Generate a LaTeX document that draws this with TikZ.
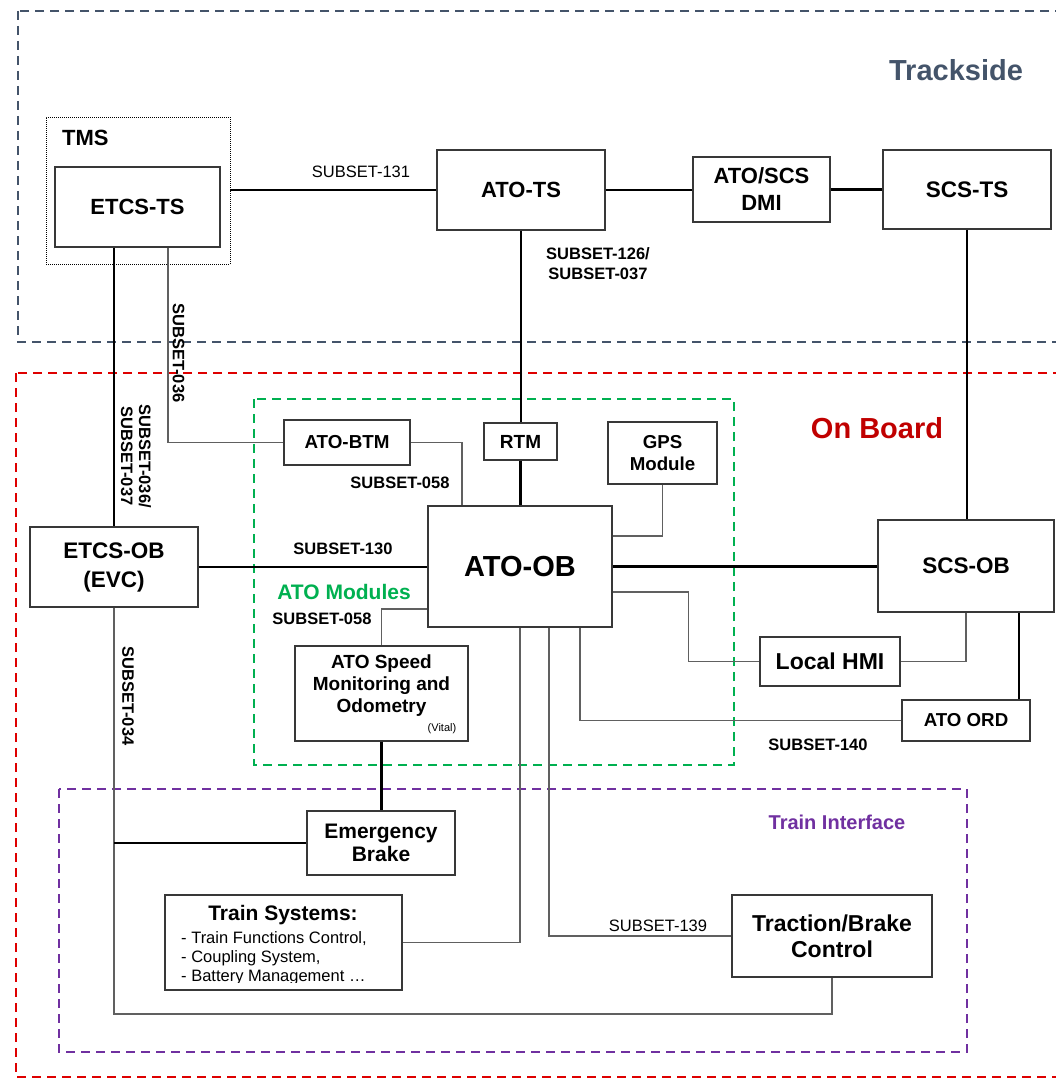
\documentclass[tikz,border=0pt]{standalone}
\usepackage{fontspec}
\setmainfont{Liberation Sans}
\definecolor{tsgray}{RGB}{68,84,106}
\definecolor{obred}{RGB}{222,0,0}
\definecolor{obtext}{RGB}{192,0,0}
\definecolor{atogreen}{RGB}{0,176,80}
\definecolor{tipurple}{RGB}{112,48,160}
\definecolor{boxline}{RGB}{56,56,56}
\definecolor{wire}{RGB}{96,96,96}
\tikzset{
  region/.style={line width=2, dash pattern=on 9pt off 6pt},
  box/.style={draw=boxline, line width=1.4, fill=white, inner sep=0pt, align=center,
              font=\bfseries\fontsize{22}{26}\selectfont},
  wirethin/.style={draw=wire, line width=1.3},
  wirebold/.style={draw=black, line width=2.2},
  lbl/.style={inner sep=0pt, font=\bfseries\fontsize{16.5}{20}\selectfont},
  lblreg/.style={inner sep=0pt, font=\fontsize{16.5}{20}\selectfont},
  title/.style={inner sep=0pt, font=\bfseries\fontsize{29}{32}\selectfont},
  plain/.style={inner sep=0pt},
}
\begin{document}
\begin{tikzpicture}[x=1pt,y=-1pt]
\useasboundingbox (0,0) rectangle (1056,1078);

% ---- domains ----
\draw[region, draw=tsgray] (18,11) rectangle (1080,342);
\draw[region, draw=obred] (16,373) rectangle (1080,1077);
\draw[region, draw=atogreen] (254,399) rectangle (734,765);
\draw[region, draw=tipurple] (59,789) rectangle (967,1052);

\node[title, text=tsgray] (tstitle) at (956,70) {Trackside};
\node[title, text=obtext] (obtitle) at (877,428) {On Board};
\node[plain, font=\bfseries\fontsize{21}{24}\selectfont, text=atogreen] (modtitle) at (344,592) {ATO Modules};
\node[plain, font=\bfseries\fontsize{20}{24}\selectfont, text=tipurple] (tititle) at (837,822) {Train Interface};

% ---- units ----
\node[draw=black, line width=0.9, dash pattern=on 1pt off 1pt, inner sep=0pt,
      minimum width=184, minimum height=147] (tms) at (138,190.5) {};
\node[plain, font=\bfseries\fontsize{22}{26}\selectfont, anchor=west] (tmslabel) at (62,138) {TMS};
\node[box, minimum width=165, minimum height=80] (etcsts) at (137.5,207) {ETCS-TS};
\node[box, minimum width=168, minimum height=80] (atots) at (521,190) {ATO-TS};
\node[box, minimum width=137, minimum height=65, font=\bfseries\fontsize{22}{27}\selectfont] (dmi) at (761.5,189.5) {ATO/SCS\\DMI};
\node[box, minimum width=168, minimum height=79, font=\bfseries\fontsize{22.5}{26}\selectfont] (scsts) at (967,189.5) {SCS-TS};

\node[box, minimum width=73, minimum height=37, font=\bfseries\fontsize{19}{22}\selectfont] (rtm) at (520.5,441.5) {RTM};
\node[box, minimum width=109, minimum height=62, font=\bfseries\fontsize{18.7}{22}\selectfont] (gps) at (662.5,453) {GPS\\Module};
\node[box, minimum width=126, minimum height=45, font=\bfseries\fontsize{18.8}{22}\selectfont] (atobtm) at (347,442.5) {ATO-BTM};
\node[box, minimum width=184, minimum height=121, font=\bfseries\fontsize{29}{32}\selectfont] (atoob) at (520,566.5) {ATO-OB};
\node[box, minimum width=168, minimum height=80, font=\bfseries\fontsize{22.5}{29}\selectfont] (etcsob) at (114,567) {ETCS-OB\\(EVC)};
\node[box, minimum width=176, minimum height=92, font=\bfseries\fontsize{22.5}{26}\selectfont] (scsob) at (966,566) {SCS-OB};
\node[box, minimum width=140, minimum height=49, font=\bfseries\fontsize{23}{26}\selectfont] (hmi) at (830,661.5) {Local HMI};
\node[box, minimum width=128, minimum height=41, font=\bfseries\fontsize{18.7}{22}\selectfont] (ord) at (966,720.5) {ATO ORD};

\node[box, minimum width=173, minimum height=95] (speed) at (381.5,693.5) {};
\node[plain, align=center, font=\bfseries\fontsize{19}{22}\selectfont] (speedtext) at (381.5,686) {ATO Speed\\Monitoring and\\Odometry};
\node[plain, font=\fontsize{11}{12}\selectfont] (vital) at (442,729) {(Vital)};

\node[box, minimum width=148, minimum height=64, font=\bfseries\fontsize{21}{23}\selectfont] (eb) at (381,843) {Emergency\\Brake};
\node[box, minimum width=200, minimum height=82, font=\bfseries\fontsize{23}{26}\selectfont] (traction) at (832,936) {Traction/Brake\\Control};

\node[box, minimum width=237, minimum height=95] (trainsys) at (283.5,942.5) {};
\node[plain, font=\bfseries\fontsize{21}{24}\selectfont] (trainsystitle) at (283,915) {Train Systems:};
\begin{scope}
  \clip (166,896) rectangle (401,982);
  \node[plain, anchor=base west, font=\fontsize{16.5}{19}\selectfont] (item1) at (181,943) {- Train Functions Control,};
  \node[plain, anchor=base west, font=\fontsize{16.5}{19}\selectfont] (item2) at (181,962) {- Coupling System,};
  \node[plain, anchor=base west, font=\fontsize{16.5}{19}\selectfont] (item3) at (181,981) {- Battery Management …};
\end{scope}

% ---- connections ----
\coordinate (loopcorner) at (114,1014);
\draw[wirebold] (tms.east |- atots.west) -- (atots.west);
\draw[wirebold] (atots.east) -- (atots.east -| dmi.west);
\draw[wirebold] (dmi.east) -- (dmi.east -| scsts.west);
\draw[wirebold] (etcsob.north |- etcsts.south) -- (etcsob.north);
\draw[wirethin] ([xshift=30.5]etcsts.south) |- (atobtm.west);
\draw[wirethin] (atobtm.east) -| ([xshift=-58]atoob.north);
\draw[wirebold] (atots.south) -- (atots.south |- rtm.north);
\draw[wirebold] (rtm.south) -- (rtm.south |- atoob.north);
\draw[wirethin] (gps.south) |- ([yshift=30.5]atoob.east);
\draw[wirebold] (etcsob.east) -- (etcsob.east -| atoob.west);
\draw[wirebold] (atoob.east) -- (atoob.east -| scsob.west);
\draw[wirebold] (scsts.south) -- (scsts.south |- scsob.north);
\draw[wirethin] ([yshift=-25.5]atoob.east) -- ++(76,0) |- (hmi.west);
\draw[wirethin] (hmi.east) -| (scsob.south);
\draw[wirebold] ([xshift=53]scsob.south) -- ([xshift=53]scsob.south |- ord.north);
\draw[wirethin] (ord.west) -| ([xshift=60]atoob.south);
\draw[wirethin] ([yshift=-42.5]atoob.west) -| (speed.north);
\draw[wirebold] (speed.south) -- (speed.south |- eb.north);
\draw[wirethin] (etcsob.south) -- (loopcorner) -| (traction.south);
\draw[wirebold] (eb.west -| etcsob.south) -- (eb.west);
\draw[wirethin] (trainsys.east) -| (atoob.south);
\draw[wirethin] ([xshift=29]atoob.south) |- (traction.west);

% ---- interface labels ----
\node[lblreg] (s131) at (361,172) {SUBSET-131};
\node[lbl, align=center] (s126) at (598,264) {SUBSET-126/\\SUBSET-037};
\node[lbl, rotate=-90, align=center, font=\bfseries\fontsize{16.5}{18}\selectfont] (s036037) at (136,456) {SUBSET-036/\\SUBSET-037};
\node[lbl, rotate=-90] (s036) at (178.5,353) {SUBSET-036};
\node[lbl] (s058a) at (400,483) {SUBSET-058};
\node[lbl] (s058b) at (322,619) {SUBSET-058};
\node[lbl] (s130) at (343,549) {SUBSET-130};
\node[lbl, rotate=-90] (s034) at (128,696) {SUBSET-034};
\node[lbl] (s140) at (818,745) {SUBSET-140};
\node[lblreg] (s139) at (658,926) {SUBSET-139};
\end{tikzpicture}
\end{document}
